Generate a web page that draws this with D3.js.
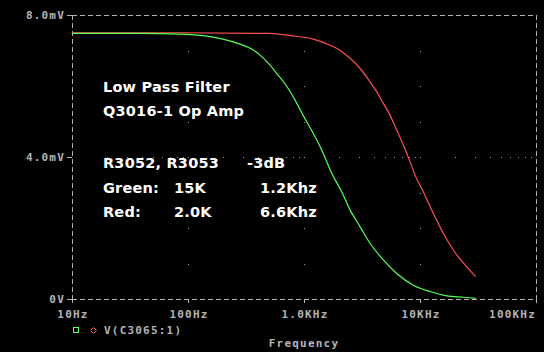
<!DOCTYPE html>
<meta charset="utf-8">
<style>
body { margin: 0; background: #000; }
svg { display: block; background: #000; }
.axis-label { fill: #b4b4b4; font: bold 11px "DejaVu Sans Mono", monospace; letter-spacing: 1.2px; }
.note { fill: #fff; font: bold 14.5px "DejaVu Sans", sans-serif; letter-spacing: 0.2px; }
</style>
<svg width="544" height="352"></svg>
<script src="https://d3js.org/d3.v7.min.js"></script>
<script>
// values (Hz, mV)
var greenFreq = [10, 39, 85, 140, 200, 281, 354, 418, 490, 597, 714, 836, 980, 1172, 1421, 1733, 2114, 2493, 3039, 3706, 4830, 6296, 8753, 12190, 16990, 23620, 30200];
var greenMv   = [7.48, 7.48, 7.46, 7.41, 7.32, 7.18, 7.04, 6.87, 6.65, 6.31, 5.98, 5.61, 5.18, 4.73, 4.20, 3.54, 3.02, 2.51, 2.04, 1.57, 1.10, 0.72, 0.39, 0.21, 0.09, 0.05, 0.02];
var redFreq = [10, 85, 509, 757, 1203, 1675, 2043, 2493, 3039, 3706, 4234, 4830, 5509, 6296, 7178, 8200, 9057, 10670, 13030, 15880, 19370, 24430, 30200];
var redMv   = [7.50, 7.50, 7.48, 7.42, 7.32, 7.15, 7.01, 6.78, 6.50, 6.12, 5.84, 5.51, 5.18, 4.76, 4.34, 3.87, 3.49, 3.02, 2.41, 1.85, 1.38, 0.96, 0.63];

var xTicks = [10, 100, 1000, 10000, 100000];
var xTickLabels = ["10Hz", "100Hz", "1.0KHz", "10KHz", "100KHz"];
var yTicks = [0, 4, 8];
var yTickLabels = ["0V", "4.0mV", "8.0mV"];
var notes = ["Low Pass Filter", "Q3016-1 Op Amp"];
var tableRows = [
  ["R3052, R3053", "", "-3dB"],
  ["Green:", "15K", "1.2Khz"],
  ["Red:", "2.0K", "6.6Khz"]
];
var legendLabel = "V(C3065:1)";

var grey = "#b4b4b4", green = "#55ff55", red = "#ff5050";
var svg = d3.select("svg"),
    margin = {top: 15, right: 8, bottom: 53, left: 72},
    width = +svg.attr("width") - margin.left - margin.right,
    height = +svg.attr("height") - margin.top - margin.bottom;

var x = d3.scaleLog().domain([10, 100000]).range([margin.left, margin.left + width]);
var y = d3.scaleLinear().domain([0, 8]).range([margin.top + height, margin.top]);

// dotted grid
var dots = [];
xTicks.slice(1, -1).forEach(function(f) {
  d3.range(1, 8).forEach(function(v) { dots.push([x(f), y(v)]); });
});
d3.range(1, 5).forEach(function(e) {
  d3.range(2, 10).forEach(function(m) { dots.push([x(m * Math.pow(10, e)), y(4)]); });
});
svg.append("g").selectAll("rect").data(dots).enter().append("rect")
  .attr("x", function(d) { return Math.round(d[0]); })
  .attr("y", function(d) { return Math.round(d[1]); })
  .attr("width", 1).attr("height", 1).attr("fill", "#9a9a9a");

// frame (dashed)
var frame = svg.append("g").attr("stroke", grey).attr("stroke-width", 1).attr("stroke-dasharray", "5,3").attr("shape-rendering", "crispEdges");
frame.append("line").attr("x1", x(10)).attr("x2", x(100000)).attr("y1", y(8) + 0.5).attr("y2", y(8) + 0.5);
frame.append("line").attr("x1", x(10)).attr("x2", x(100000)).attr("y1", y(0) + 0.5).attr("y2", y(0) + 0.5);
frame.append("line").attr("x1", x(10) + 0.5).attr("x2", x(10) + 0.5).attr("y1", y(8)).attr("y2", y(0) + 4);
frame.append("line").attr("x1", x(100000) + 0.5).attr("x2", x(100000) + 0.5).attr("y1", y(8)).attr("y2", y(0) + 4);

// ticks
var ticks = svg.append("g").attr("stroke", grey).attr("shape-rendering", "crispEdges");
yTicks.forEach(function(v) {
  ticks.append("line").attr("x1", x(10) - 5).attr("x2", x(10)).attr("y1", y(v) + 0.5).attr("y2", y(v) + 0.5);
});
xTicks.forEach(function(f) {
  ticks.append("line").attr("x1", x(f) + 0.5).attr("x2", x(f) + 0.5).attr("y1", y(0)).attr("y2", y(0) + 4);
});

svg.append("g").selectAll("text").data(yTicks).enter().append("text")
  .attr("class", "axis-label")
  .attr("x", x(10) - 7).attr("y", function(v) { return y(v) + 4; })
  .attr("text-anchor", "end")
  .text(function(v, i) { return yTickLabels[i]; });

svg.append("g").selectAll("text").data(xTicks).enter().append("text")
  .attr("class", "axis-label")
  .attr("x", function(f, i) { return i === xTicks.length - 1 ? x(f) : x(f) + 1; })
  .attr("y", y(0) + 19)
  .attr("text-anchor", function(f, i) { return i === xTicks.length - 1 ? "end" : "middle"; })
  .text(function(f, i) { return xTickLabels[i]; });

svg.append("text").attr("class", "axis-label")
  .attr("x", x(10) + width / 2).attr("y", 347).attr("text-anchor", "middle")
  .text("Frequency");

// traces
var line = d3.line()
  .x(function(d) { return x(d[0]); })
  .y(function(d) { return y(d[1]); })
  .curve(d3.curveMonotoneX);

svg.append("path").datum(d3.zip(redFreq, redMv))
  .attr("fill", "none").attr("stroke", red).attr("stroke-width", 1.2).attr("d", line);
svg.append("path").datum(d3.zip(greenFreq, greenMv))
  .attr("fill", "none").attr("stroke", green).attr("stroke-width", 1.2).attr("d", line);

// annotations
svg.append("g").selectAll("text").data(notes).enter().append("text")
  .attr("class", "note")
  .attr("x", 103).attr("y", function(d, i) { return 92 + i * 24; })
  .text(function(d) { return d; });

var colX = [103, 174, 260];
tableRows.forEach(function(row, r) {
  row.forEach(function(cell, c) {
    svg.append("text").attr("class", "note")
      .attr("x", r === 0 && c === 2 ? 247 : colX[c])
      .attr("y", 168 + r * 24.5)
      .text(cell);
  });
});

// legend
svg.append("rect").attr("x", 73.5).attr("y", 327.5).attr("width", 5).attr("height", 5)
  .attr("fill", "none").attr("stroke", green).attr("shape-rendering", "crispEdges");
svg.append("path").attr("d", "M93.5,327.5 L96.5,330.5 L93.5,333.5 L90.5,330.5 Z")
  .attr("fill", "none").attr("stroke", red).attr("stroke-width", 1);
svg.append("text").attr("class", "axis-label")
  .attr("x", 104).attr("y", 334).text(legendLabel);
</script>
